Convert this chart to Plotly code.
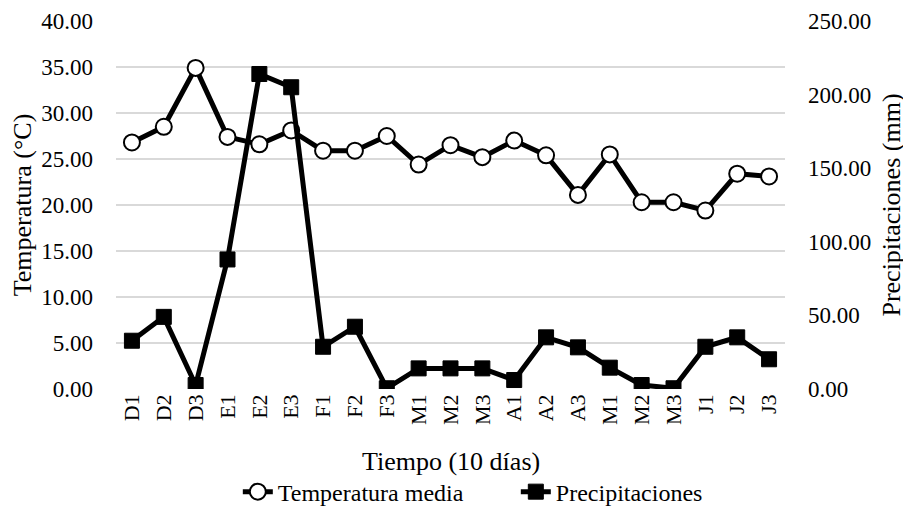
import plotly.graph_objects as go

categories = ["D1", "D2", "D3", "E1", "E2", "E3", "F1", "F2", "F3", "M1", "M2", "M3",
              "A1", "A2", "A3", "M1 ", "M2 ", "M3 ", "J1", "J2", "J3"]
tick_text = ["D1", "D2", "D3", "E1", "E2", "E3", "F1", "F2", "F3", "M1", "M2", "M3",
             "A1", "A2", "A3", "M1", "M2", "M3", "J1", "J2", "J3"]
temperatura = [26.8, 28.5, 34.9, 27.4, 26.6, 28.1, 25.9, 25.9, 27.5, 24.4, 26.5, 25.2,
               27.0, 25.4, 21.1, 25.5, 20.3, 20.3, 19.4, 23.4, 23.1]
precipitaciones = [32.8, 49.0, 2.7, 88.0, 214.0, 205.0, 28.7, 42.3, 0.5, 14.0, 14.0, 14.0,
                   6.1, 35.1, 28.3, 14.5, 2.7, 0.5, 28.7, 35.1, 20.2]

font_family = "Liberation Serif, Times New Roman, serif"

fig = go.Figure()
fig.add_trace(go.Scatter(
    x=categories, y=temperatura, name="Temperatura media",
    mode="lines+markers",
    line=dict(color="black", width=5),
    marker=dict(symbol="circle", size=16, color="white", line=dict(color="black", width=2)),
    yaxis="y",
))
fig.add_trace(go.Scatter(
    x=categories, y=precipitaciones, name="Precipitaciones",
    mode="lines+markers",
    line=dict(color="black", width=5),
    marker=dict(symbol="square", size=15, color="black", line=dict(color="black", width=1)),
    yaxis="y2",
))

fig.update_layout(
    width=903, height=498,
    margin=dict(l=108, r=126, t=13, b=117, autoexpand=False),
    paper_bgcolor="white", plot_bgcolor="white",
    font=dict(family=font_family, size=24, color="black"),
    showlegend=True,
    legend=dict(orientation="h", xref="container", x=0.2545, xanchor="left",
                yref="container", y=0.028, yanchor="middle",
                font=dict(size=24), tracegroupgap=0,
                entrywidth=233, entrywidthmode="pixels"),
    xaxis=dict(
        type="category", tickmode="array", tickvals=categories, ticktext=tick_text,
        range=[-0.5, len(categories) - 0.5],
        tickangle=-90, showgrid=False, showline=False, ticks="", zeroline=False,
        automargin=False,
        tickfont=dict(size=22),
    ),
    yaxis=dict(
        range=[0, 40], dtick=5, tickformat=".2f", showgrid=True,
        gridcolor="#d9d9d9", gridwidth=1.5, zeroline=False, showline=False, ticks="",
        ticklabelstandoff=22, automargin=False,
        title=dict(text="Temperatura (°C)", font=dict(size=26), standoff=3),
        tickfont=dict(size=23),
    ),
    yaxis2=dict(
        range=[0, 250], dtick=50, tickformat=".2f", overlaying="y", side="right",
        showgrid=False, zeroline=False, showline=False, ticks="",
        ticklabelstandoff=22, automargin=False,
        title=dict(text="Precipitaciones (mm)", font=dict(size=26), standoff=11),
        tickfont=dict(size=23),
    ),
    annotations=[dict(
        text="Tiempo (10 días)", xref="paper", yref="paper", x=0.5, y=-0.198,
        xanchor="center", yanchor="middle", showarrow=False,
        font=dict(size=26, family=font_family, color="black"),
    )],
)

fig.write_html("out.html")
